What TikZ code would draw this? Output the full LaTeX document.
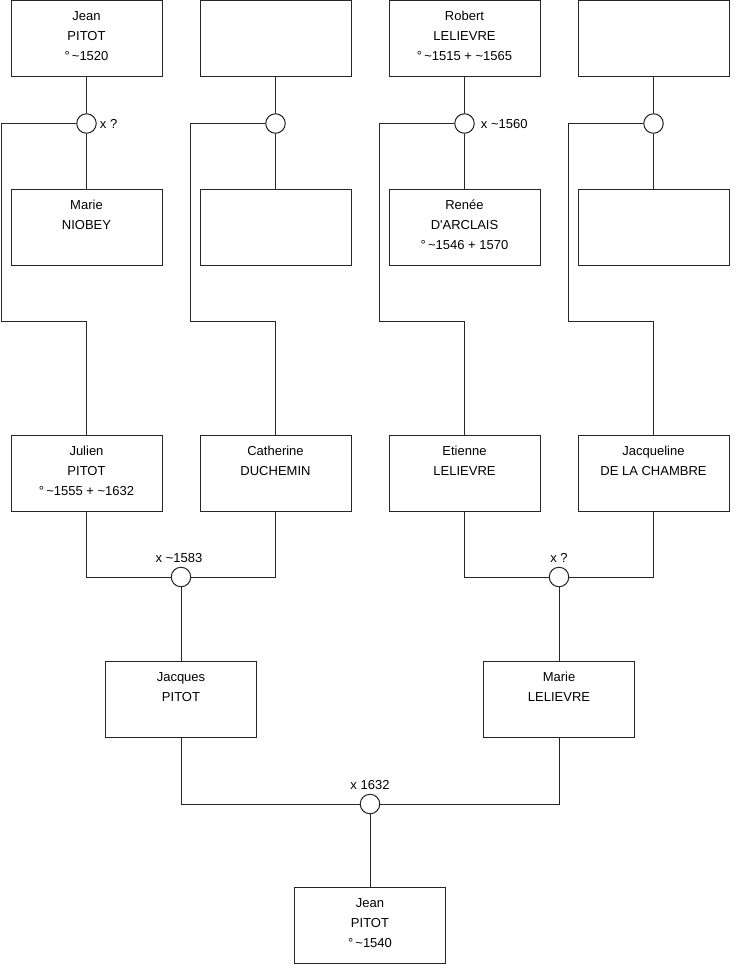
\documentclass[tikz,border=0pt]{standalone}
\usepackage{fontspec}
\setmainfont{Liberation Sans}
\begin{document}
\begin{tikzpicture}[x=1pt,y=-1pt,
  person/.style={draw=black!85, line width=1pt, minimum width=151pt, minimum height=76pt, inner sep=0pt, fill=white},
  txt/.style={anchor=north, inner sep=0pt, align=center, font=\fontsize{13}{20}\selectfont},
  union/.style={circle, draw=black!85, line width=1pt, minimum size=19.5pt, inner sep=0pt, fill=white},
  link/.style={draw=black!85, line width=1pt},
  ulab/.style={inner sep=0pt, font=\fontsize{13}{15}\selectfont}
]
\fill[white] (0,0) rectangle (740,975);
\useasboundingbox (0,0) rectangle (740,975);

% coordinates of corners
\coordinate (c1) at (1.5,321.5);
\coordinate (c2) at (190.5,321.5);
\coordinate (c3) at (379.5,321.5);
\coordinate (c4) at (568.5,321.5);

% unions
\node[union] (u1) at (86.5,123.5) {};
\node[union] (u2) at (275.5,123.5) {};
\node[union] (u3) at (464.5,123.5) {};
\node[union] (u4) at (653.5,123.5) {};
\node[union] (v1) at (181,577) {};
\node[union] (v2) at (559,577) {};
\node[union] (w) at (370,804) {};

% connectors
\draw[link] (u1.north) -- (86.5,76.5) coordinate (p1b);
\draw[link] (u2.north) -- (275.5,76.5) coordinate (p2b);
\draw[link] (u3.north) -- (464.5,76.5) coordinate (p3b);
\draw[link] (u4.north) -- (653.5,76.5) coordinate (p4b);
\draw[link] (u1.south) -- (86.5,189);
\draw[link] (u2.south) -- (275.5,189);
\draw[link] (u3.south) -- (464.5,189);
\draw[link] (u4.south) -- (653.5,189);
\draw[link] (u1.west) -| (c1) -| (86.5,435);
\draw[link] (u2.west) -| (c2) -| (275.5,435);
\draw[link] (u3.west) -| (c3) -| (464.5,435);
\draw[link] (u4.west) -| (c4) -| (653.5,435);
\draw[link] (86.5,511) |- (v1.west);
\draw[link] (275.5,511) |- (v1.east);
\draw[link] (464.5,511) |- (v2.west);
\draw[link] (653.5,511) |- (v2.east);
\draw[link] (v1.south) -- (181,661);
\draw[link] (v2.south) -- (559,661);
\draw[link] (181,737) |- (w.west);
\draw[link] (559,737) |- (w.east);
\draw[link] (w.south) -- (370,887.5);

% persons
\node[person] (p1) at (86.5,38.5) {};
\node[person] (p2) at (275.5,38.5) {};
\node[person] (p3) at (464.5,38.5) {};
\node[person] (p4) at (653.5,38.5) {};
\node[person] (q1) at (86.5,227) {};
\node[person] (q2) at (275.5,227) {};
\node[person] (q3) at (464.5,227) {};
\node[person] (q4) at (653.5,227) {};
\node[person] (r1) at (86.5,473) {};
\node[person] (r2) at (275.5,473) {};
\node[person] (r3) at (464.5,473) {};
\node[person] (r4) at (653.5,473) {};
\node[person] (s1) at (181,699) {};
\node[person] (s2) at (559,699) {};
\node[person] (b) at (370,925.5) {};

% texts
\node[txt] (tp1) at ([yshift=-6.5pt]p1.north) {\strut Jean\\\strut PITOT\\\strut °\,\textasciitilde1520};
\node[txt] (tp3) at ([yshift=-6.5pt]p3.north) {\strut Robert\\\strut LELIEVRE\\\strut °\,\textasciitilde1515 + \textasciitilde1565};
\node[txt] (tq1) at ([yshift=-6.5pt]q1.north) {\strut Marie\\\strut NIOBEY};
\node[txt] (tq3) at ([yshift=-6.5pt]q3.north) {\strut Renée\\\strut D\textquotesingle ARCLAIS\\\strut °\,\textasciitilde1546 + 1570};
\node[txt] (tr1) at ([yshift=-6.5pt]r1.north) {\strut Julien\\\strut PITOT\\\strut °\,\textasciitilde1555 + \textasciitilde1632};
\node[txt] (tr2) at ([yshift=-6.5pt]r2.north) {\strut Catherine\\\strut DUCHEMIN};
\node[txt] (tr3) at ([yshift=-6.5pt]r3.north) {\strut Etienne\\\strut LELIEVRE};
\node[txt] (tr4) at ([yshift=-6.5pt]r4.north) {\strut Jacqueline\\\strut DE LA CHAMBRE};
\node[txt] (ts1) at ([yshift=-6.5pt]s1.north) {\strut Jacques\\\strut PITOT};
\node[txt] (ts2) at ([yshift=-6.5pt]s2.north) {\strut Marie\\\strut LELIEVRE};
\node[txt] (tb) at ([yshift=-6.5pt]b.north) {\strut Jean\\\strut PITOT\\\strut °\,\textasciitilde1540};

% union labels
\node[ulab, anchor=base west] (lu1) at ([xshift=3pt,yshift=-4.5pt]u1.east) {x ?};
\node[ulab, anchor=base west] (lu3) at ([xshift=6pt,yshift=-4.5pt]u3.east) {x \textasciitilde1560};
\node[ulab, anchor=base] (lv1) at ([xshift=-2pt,yshift=4pt]v1.north) {x \textasciitilde1583};
\node[ulab, anchor=base] (lv2) at ([yshift=4pt]v2.north) {x ?};
\node[ulab, anchor=base] (lw) at ([yshift=4pt]w.north) {x 1632};
\end{tikzpicture}
\end{document}
